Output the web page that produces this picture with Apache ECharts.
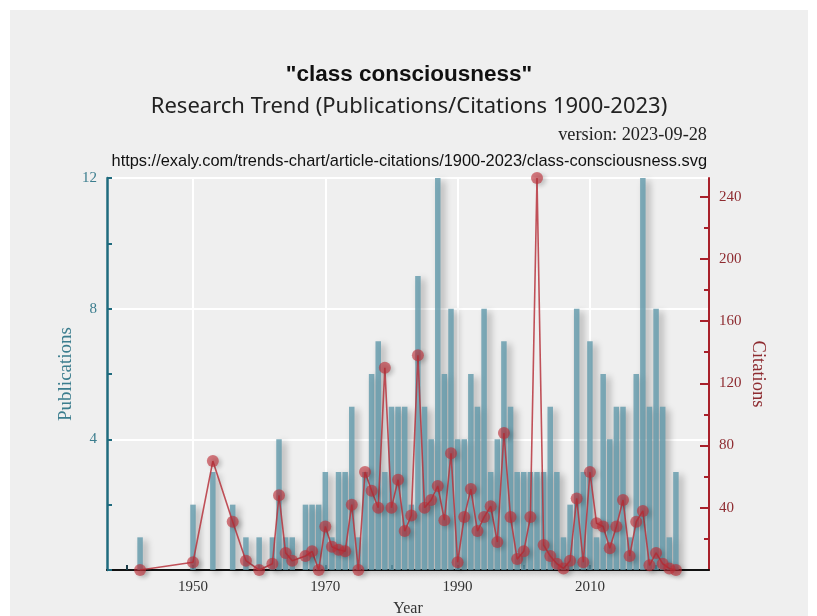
<!DOCTYPE html>
<html>
<head>
<meta charset="utf-8">
<script src="https://cdn.jsdelivr.net/npm/echarts@6/dist/echarts.min.js"></script>
<style>
  html, body { margin: 0; padding: 0; background: #ffffff; }
  #chart { position: absolute; left: 10px; top: 10px; width: 798px; height: 606px; background: #efefef; }
</style>
</head>
<body>
<div id="chart"></div>
<script>
// publications per year (bars) and citations per year (line)
const years = [1942, 1950, 1953, 1956, 1958, 1960, 1962, 1963, 1964, 1965, 1967, 1968, 1969, 1970,
  1971, 1972, 1973, 1974, 1975, 1976, 1977, 1978, 1979, 1980, 1981, 1982, 1983, 1984, 1985, 1986,
  1987, 1988, 1989, 1990, 1991, 1992, 1993, 1994, 1995, 1996, 1997, 1998, 1999, 2000, 2001, 2002,
  2003, 2004, 2005, 2006, 2007, 2008, 2009, 2010, 2011, 2012, 2013, 2014, 2015, 2016, 2017, 2018,
  2019, 2020, 2021, 2022, 2023]
const publications = [1, 2, 3, 2, 1, 1, 1, 4, 1, 1, 2, 2, 2, 3,
  1, 3, 3, 5, 1, 3, 6, 7, 3, 5, 5, 5, 2, 9, 5, 4,
  12, 6, 8, 4, 4, 6, 5, 8, 3, 4, 7, 5, 3, 3, 3, 3,
  3, 5, 3, 1, 2, 8, 3, 7, 1, 6, 4, 5, 5, 1, 6, 12,
  5, 8, 5, 1, 3]
const citations = [0, 5, 70, 31, 6, 0, 4, 48, 11, 6, 9, 12, 0, 28,
  15, 13, 12, 42, 0, 63, 51, 40, 130, 40, 58, 25, 35, 138, 40, 45,
  54, 32, 75, 5, 34, 52, 25, 34, 41, 18, 88, 34, 7, 12, 34, 252,
  16, 9, 4, 1, 6, 46, 5, 63, 30, 28, 14, 28, 45, 9, 31, 38,
  3, 11, 4, 1, 0]

const yearTicks = [1940, 1950, 1960, 1970, 1980, 1990, 2000, 2010, 2020]
const yearLabels = [1950, 1970, 1990, 2010]
const citeTicks = [40, 80, 120, 160, 200, 240]
const citeMinorTicks = [20, 60, 100, 140, 180, 220]

const teal = '#1f6b7e'
const red = '#a8202a'
const serif = '"Liberation Serif", "DejaVu Serif", serif'
const sans = '"Liberation Sans", Arial, sans-serif'

const chart = echarts.init(document.getElementById('chart'))

const xMin = years[0] - 5
const xMax = years[years.length - 1] + 5
const citeMax = Math.max(...citations)

const option = {
  backgroundColor: '#efefef',
  animation: false,
  title: [
    {
      text: '"class consciousness"',
      left: 'center', top: 48,
      textStyle: { fontFamily: sans, fontWeight: 'bold', fontSize: 22.5, color: '#111' }
    },
    {
      text: 'Research Trend (Publications/Citations 1900-2023)',
      left: 'center', top: 81,
      textStyle: { fontFamily: '"Noto Sans", sans-serif', fontWeight: 'normal', fontSize: 22, color: '#222' }
    },
    {
      text: 'version: 2023-09-28',
      right: 96, top: 111,
      textStyle: { fontFamily: serif, fontWeight: 'normal', fontSize: 18.3, color: '#222' }
    },
    {
      text: 'https://exaly.com/trends-chart/article-citations/1900-2023/class-consciousness.svg',
      right: 96, top: 138,
      textStyle: { fontFamily: sans, fontWeight: 'normal', fontSize: 16.4, color: '#111' }
    }
  ],
  grid: { left: 97, right: 99, top: 168, bottom: 46, outerBoundsMode: 'none' },
  xAxis: [
    {
      type: 'value', min: xMin, max: xMax,
      name: 'Year', nameLocation: 'middle', nameGap: 31, nameMoveOverlap: false,
      nameTextStyle: { fontFamily: serif, fontSize: 16, color: '#333' },
      axisLine: { lineStyle: { color: '#111', width: 2 } },
      axisTick: { inside: true, length: 5, customValues: yearTicks, lineStyle: { color: '#1b3c48', width: 2 } },
      axisLabel: { customValues: yearLabels, formatter: v => String(v), fontFamily: serif, fontSize: 15, color: '#333', margin: 10 },
      splitLine: { show: false }
    },
    {
      // grid lines only at the labelled years
      type: 'value', min: xMin, max: xMax, position: 'bottom',
      axisLine: { show: false },
      axisTick: { show: false, customValues: yearLabels },
      axisLabel: { show: false },
      splitLine: { show: true, lineStyle: { color: '#ffffff', width: 2 } }
    }
  ],
  yAxis: [
    {
      type: 'value', min: 0, max: 12, interval: 4, position: 'left',
      name: 'Publications', nameLocation: 'middle', nameGap: 31, nameRotate: 90, nameMoveOverlap: false,
      nameTextStyle: { fontFamily: serif, fontSize: 19, color: '#3b7d8e' },
      axisLine: { show: true, lineStyle: { color: teal, width: 2.5 } },
      axisTick: { show: true, inside: true, length: 5, lineStyle: { color: teal, width: 2 } },
      minorTick: { show: true, splitNumber: 2, length: 5, lineStyle: { color: teal, width: 2 } },
      axisLabel: { showMinLabel: false, fontFamily: serif, fontSize: 15, color: '#3b7d8e', margin: 10 },
      splitLine: { show: true, lineStyle: { color: '#ffffff', width: 2 } }
    },
    {
      type: 'value', min: 0, max: citeMax, position: 'right',
      name: 'Citations', nameLocation: 'middle', nameGap: 39, nameRotate: -90, nameMoveOverlap: false,
      nameTextStyle: { fontFamily: serif, fontSize: 18.5, color: '#8e2b30' },
      axisLine: { show: true, lineStyle: { color: red, width: 2 } },
      axisTick: { show: true, inside: true, length: 9, customValues: citeTicks, lineStyle: { color: red, width: 2 } },
      axisLabel: { customValues: citeTicks, fontFamily: serif, fontSize: 15, color: '#8e2b30', margin: 10 },
      splitLine: { show: false }
    },
    {
      type: 'value', min: 0, max: citeMax, position: 'right',
      axisLine: { show: false },
      axisTick: { show: true, inside: true, length: 5, customValues: citeMinorTicks, lineStyle: { color: red, width: 2 } },
      axisLabel: { show: false },
      splitLine: { show: false }
    }
  ],
  series: [
    {
      name: 'Publications',
      type: 'bar',
      xAxisIndex: 0, yAxisIndex: 0,
      barWidth: 5.5,
      data: years.map((y, i) => [y, publications[i]]),
      itemStyle: {
        color: 'rgba(100,155,172,0.82)',
        shadowColor: 'rgba(0,0,0,0.35)',
        shadowBlur: 7,
        shadowOffsetX: 4,
        shadowOffsetY: 3
      }
    },
    {
      name: 'Citations',
      type: 'line',
      xAxisIndex: 0, yAxisIndex: 1,
      data: years.map((y, i) => [y, citations[i]]),
      symbol: 'circle',
      symbolSize: 12,
      lineStyle: { color: '#b7343d', width: 1.6, opacity: 0.85 },
      itemStyle: {
        color: 'rgba(190,45,55,0.62)',
        shadowColor: 'rgba(0,0,0,0.3)',
        shadowBlur: 4,
        shadowOffsetX: 3,
        shadowOffsetY: 2
      },
      z: 3
    }
  ]
}

chart.setOption(option)
</script>
</body>
</html>
